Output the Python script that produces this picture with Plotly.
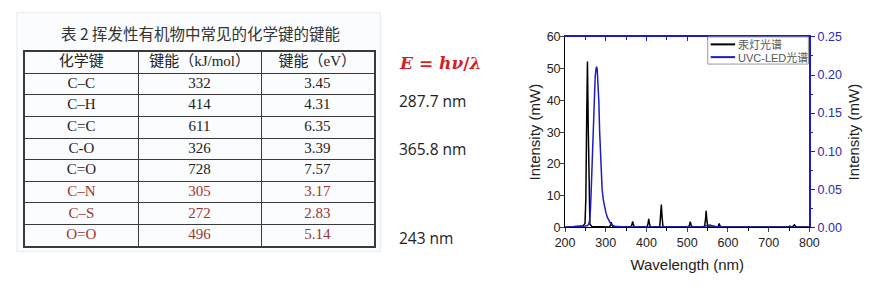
import plotly.graph_objects as go

# ---------------- data ----------------
table_title = "表 2 挥发性有机物中常见的化学键的键能"
headers = ["化学键", "键能（kJ/mol）", "键能（eV）"]
bonds = ["C–C", "C–H", "C=C", "C-O", "C=O", "C–N", "C–S", "O=O"]
energy_kj = ["332", "414", "611", "326", "728", "305", "272", "496"]
energy_ev = ["3.45", "4.31", "6.35", "3.39", "7.57", "3.17", "2.83", "5.14"]
highlight = [False, False, False, False, False, True, True, True]

formula = "<b><i>E</i> = <i>hν</i>/<i>λ</i></b>"
wavelength_notes = ["287.7 nm", "365.8 nm", "243 nm"]

hg_name = "汞灯光谱"
hg_wl = [200, 230, 244, 249, 251, 253, 255, 257, 259, 261, 266, 300,
         309.5, 312, 313.5, 315, 317.5, 340,
         362, 364.5, 366, 367.5, 370, 390,
         401.5, 404, 405.5, 407, 409.5,
         432.5, 435, 436.5, 438, 440.5, 470,
         503.5, 506, 507.5, 509, 511.5, 530,
         542.5, 545, 546.5, 548, 550.5, 560,
         574.5, 577, 578.5, 580, 582.5, 650, 720,
         748, 752, 755, 759, 763, 767, 800]
hg_int = [0.05, 0.2, 0.4, 1.2, 9, 33, 52.3, 31, 7, 1.0, 0.3, 0.15,
          0.15, 0.8, 1.6, 0.8, 0.15, 0.1,
          0.15, 0.95, 1.9, 0.95, 0.15, 0.1,
          0.15, 1.35, 2.7, 1.35, 0.15,
          0.15, 3.6, 7.2, 3.6, 0.15, 0.1,
          0.15, 0.9, 1.8, 0.9, 0.15, 0.1,
          0.15, 2.6, 5.2, 2.6, 0.15, 0.1,
          0.15, 0.6, 1.2, 0.6, 0.15, 0.1, 0.1,
          0.1, 0.4, 0.15, 0.2, 0.8, 0.2, 0.1]

led_name = "UVC-LED光谱"
led_wl = [200, 225, 240, 250, 255, 258, 260, 262, 264, 266, 268, 270, 272, 274,
          276, 277.5, 279, 281, 283, 285, 287, 289, 291, 294, 297, 300, 304,
          308, 312, 316, 322, 340, 400, 500, 535, 542, 548, 555, 562, 570, 585,
          650, 800]
led_int = [0, 0.0005, 0.001, 0.0018, 0.0025, 0.004, 0.008, 0.02, 0.045, 0.08,
           0.12, 0.155, 0.18, 0.198, 0.208, 0.211, 0.207, 0.192, 0.165, 0.125,
           0.092, 0.066, 0.05, 0.036, 0.027, 0.02, 0.013, 0.008, 0.005, 0.003,
           0.0015, 0.0008, 0.0004, 0.0004, 0.0006, 0.0015, 0.0025, 0.003, 0.002,
           0.001, 0.0004, 0.0002, 0.0001]

x_title = "Wavelength (nm)"
y_title = "Intensity (mW)"

# ---------------- figure ----------------
W, H = 878, 286
def px(x):
    return x / W
def py(y):
    return 1 - y / H

BLUE = "#1c1cc4"
BLUE_TXT = "#2b2bb0"
RED_TXT = "#9c3532"
SERIF = "Liberation Serif, Noto Sans CJK SC"
SANS = "Liberation Sans, Noto Sans CJK SC"

fig = go.Figure()

# ---- table drawn on its own axes (grid lines = cell borders) ----
col_widths = [116, 126, 115]
col_edges = [0]
for w in col_widths:
    col_edges.append(col_edges[-1] + w)
col_centers = [(a + b) / 2 for a, b in zip(col_edges[:-1], col_edges[1:])]
n_rows = len(bonds) + 1
columns = [bonds, energy_kj, energy_ev]

tx, ty, tt, tc = [], [], [], []
for ci, head in enumerate(headers):
    tx.append(col_centers[ci]); ty.append(0.5); tt.append(head); tc.append("#222222")
    for ri, val in enumerate(columns[ci]):
        tx.append(col_centers[ci]); ty.append(ri + 1.5); tt.append(val)
        tc.append(RED_TXT if highlight[ri] else "#222222")

fig.add_trace(go.Scatter(x=tx, y=ty, text=tt, mode="text", xaxis="x3", yaxis="y3",
                         textposition="middle center",
                         textfont=dict(family=SERIF, size=15, color=tc),
                         showlegend=False, hoverinfo="skip"))

fig.add_trace(go.Scatter(x=hg_wl, y=hg_int, mode="lines", name=hg_name,
                         line=dict(color="black", width=1.5),
                         xaxis="x", yaxis="y", showlegend=False))
fig.add_trace(go.Scatter(x=led_wl, y=led_int, mode="lines", name=led_name,
                         line=dict(color=BLUE, width=1.5),
                         xaxis="x", yaxis="y2", showlegend=False))
fig.add_trace(go.Scatter(x=[200], y=[0], mode="markers", marker=dict(opacity=0),
                         xaxis="x2", yaxis="y", showlegend=False, hoverinfo="skip"))

xd = [px(568), px(818)]
yd = [py(231.7), py(31.5)]
tickfont = dict(family=SANS, size=12.5, color="#222222")
grid_c = "#3a3a3a"

fig.update_layout(
    width=W, height=H, margin=dict(l=0, r=0, t=0, b=0),
    paper_bgcolor="white", plot_bgcolor="rgba(0,0,0,0)", showlegend=False,
    xaxis=dict(domain=xd, range=[200, 800], dtick=100, ticks="outside", ticklen=4,
               showline=True, linecolor="black", linewidth=1, showgrid=False,
               zeroline=False, tickfont=tickfont, anchor="y",
               minor=dict(dtick=50, ticks="outside", ticklen=3, tickcolor="black"),
               title=dict(text=x_title, font=dict(family=SANS, size=15, color="#222"),
                          standoff=10)),
    xaxis2=dict(overlaying="x", side="top", anchor="y", range=[200, 800], dtick=100,
                ticks="inside", ticklen=4, tickcolor=BLUE, showticklabels=False,
                showline=True, linecolor=BLUE, linewidth=1.5, showgrid=False,
                zeroline=False,
                minor=dict(dtick=50, ticks="inside", ticklen=3, tickcolor=BLUE)),
    yaxis=dict(domain=yd, range=[0, 60], dtick=10, ticks="outside", ticklen=4,
               showline=True, linecolor="black", linewidth=1, showgrid=False,
               zeroline=False, tickfont=tickfont, anchor="x", ticklabelstandoff=-3,
               title=dict(text=y_title, font=dict(family=SANS, size=15, color="#222"),
                          standoff=2)),
    yaxis2=dict(overlaying="y", side="right", anchor="x", range=[0, 0.25], dtick=0.05,
                tickformat=".2f", ticks="outside", ticklen=4, tickcolor=BLUE,
                showline=True, linecolor=BLUE, linewidth=1.5, showgrid=False,
                zeroline=False, tickfont=dict(family=SANS, size=12.5, color=BLUE_TXT),
                minor=dict(dtick=0.025, ticks="outside", ticklen=2, tickcolor=BLUE),
                title=dict(text=y_title, font=dict(family=SANS, size=15, color="#222"),
                           standoff=8)),
    xaxis3=dict(domain=[px(15), px(372)], range=[col_edges[0], col_edges[-1]],
                anchor="y3", tickvals=col_edges, showticklabels=False, ticks="",
                showgrid=True, gridcolor=grid_c, gridwidth=1, zeroline=False,
                showline=True, linecolor=grid_c, linewidth=1.5, mirror=True,
                fixedrange=True),
    yaxis3=dict(domain=[py(251.5), py(47)], range=[n_rows, 0], anchor="x3",
                tickvals=list(range(n_rows + 1)), showticklabels=False, ticks="",
                showgrid=True, gridcolor=grid_c, gridwidth=1, zeroline=False,
                showline=True, linecolor=grid_c, linewidth=1.5, mirror=True,
                fixedrange=True),
)

shapes = [
    dict(type="rect", xref="paper", yref="paper", x0=px(7), x1=px(379), y0=py(257), y1=py(6),
         fillcolor="#fafcfd", line=dict(color="#e6ecf0", width=1), layer="below"),
    # legend box and samples
    dict(type="rect", xref="paper", yref="paper", x0=px(714), x1=px(817), y0=py(60), y1=py(31.5),
         fillcolor="white", line=dict(color="#9a9a9a", width=1), layer="above"),
    dict(type="line", xref="paper", yref="paper", x0=px(717), x1=px(742), y0=py(39.3), y1=py(39.3),
         line=dict(color="black", width=2)),
    dict(type="line", xref="paper", yref="paper", x0=px(717), x1=px(742), y0=py(52.7), y1=py(52.7),
         line=dict(color=BLUE, width=2)),
]
fig.update_layout(shapes=shapes)

ann = [
    dict(text=table_title, x=px(195), y=py(27), font=dict(family="Noto Sans CJK SC", size=15.5, color="#333")),
    dict(text=formula, x=px(396), y=py(59), xanchor="left",
         font=dict(family="DejaVu Serif", size=17, color="#d81e25")),
    dict(text=hg_name, x=px(743), y=py(39.3), xanchor="left",
         font=dict(family=SANS, size=11, color="#555")),
    dict(text=led_name, x=px(743), y=py(52.7), xanchor="left",
         font=dict(family=SANS, size=11, color="#555")),
]
for t, yy in zip(wavelength_notes, [99, 149, 243]):
    ann.append(dict(text=t, x=px(396), y=py(yy), xanchor="left",
                    font=dict(family="Open Sans", size=15.5, color="#222")))
for a in ann:
    a.setdefault("xanchor", "center")
    a.update(xref="paper", yref="paper", yanchor="middle", showarrow=False)
fig.update_layout(annotations=ann)

fig.write_html("out.html")
